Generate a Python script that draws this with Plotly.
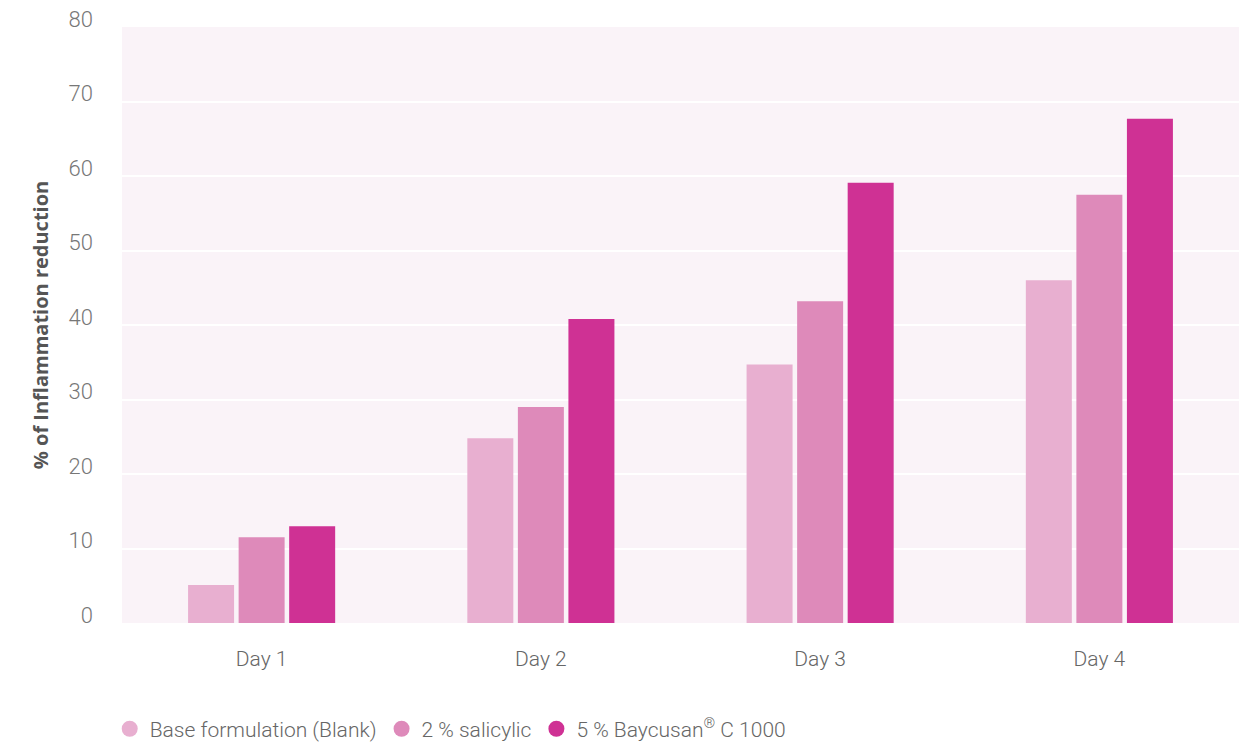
import plotly.graph_objects as go

days = ["Day 1", "Day 2", "Day 3", "Day 4"]
series_names = ["Base formulation (Blank)", "2 % salicylic", "5 % Baycusan<sup>®</sup> C 1000"]
blank = [5.1, 24.8, 34.7, 46.0]
salicylic = [11.5, 29.0, 43.2, 57.5]
baycusan = [13.0, 40.8, 59.1, 67.7]
colors = ["#e8afd0", "#de8aba", "#cf3194"]
y_ticks = [0, 10, 20, 30, 40, 50, 60, 70, 80]

fig = go.Figure()
for name, vals, col in zip(series_names, [blank, salicylic, baycusan], colors):
    fig.add_trace(go.Bar(x=days, y=vals, name=name, marker=dict(color=col, line=dict(width=0)),
                         showlegend=False))
    # circular legend markers
    fig.add_trace(go.Scatter(x=[None], y=[None], mode="markers", name=name,
                             marker=dict(symbol="circle", size=16, color=col)))

fig.update_layout(
    width=1245, height=744,
    margin=dict(l=122, r=6, t=27, b=121, autoexpand=False),
    paper_bgcolor="#ffffff",
    plot_bgcolor="#faf3f8",
    barmode="group",
    bargap=0.457,
    bargroupgap=0.09,
    font=dict(family="Roboto", color="#666666", weight=300),
    showlegend=True,
    legend=dict(orientation="h", x=-0.011, xanchor="left", y=-0.178, yanchor="middle",
                font=dict(size=21, color="#666666", weight=300),
                itemwidth=30, tracegroupgap=0, bgcolor="rgba(0,0,0,0)"),
)
fig.update_xaxes(showgrid=False, zeroline=False, showline=False, ticks="",
                 tickfont=dict(size=21, color="#666666", weight=300), ticklabelstandoff=21)
fig.update_yaxes(range=[0, 80], tickvals=y_ticks, showgrid=True, gridcolor="#ffffff", gridwidth=1.5,
                 zeroline=False, showline=False, ticks="",
                 tickfont=dict(size=22, color="#777777", weight=300), ticklabelstandoff=28,
                 ticklabelshift=-8,
                 title=dict(text="<b>% of Inflammation reduction</b>",
                            font=dict(family="Open Sans", size=20, color="#555555", weight=700),
                            standoff=14))

fig.write_html("out.html")
